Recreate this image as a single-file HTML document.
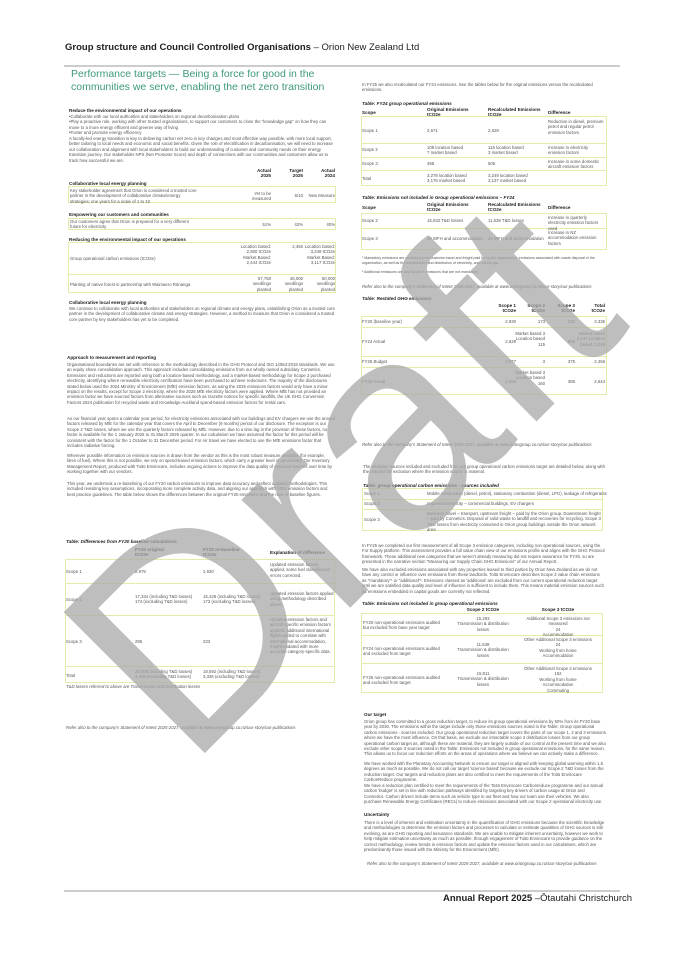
<!DOCTYPE html>
<html><head><meta charset="utf-8"><style>
*{margin:0;padding:0;box-sizing:border-box}
body{width:675px;height:955px;background:#fff;position:relative;overflow:hidden;font-family:"Liberation Sans",sans-serif;color:#444}
.a{position:absolute}
.t{font-size:4.3px;line-height:5.4px;color:#555}
.h{font-size:4.6px;font-weight:bold;color:#222}
.i{font-style:italic}
.bx{position:absolute;border:1px solid #e3ecaa}
.ln{position:absolute;height:1px;background:#e3ecaa}
.r{text-align:right}.c{text-align:center}
</style></head><body>

<div class="a" style="left:65px;top:42px;font-size:9.5px;color:#222;white-space:nowrap"><b>Group structure and Council Controlled Organisations</b> – Orion New Zealand Ltd</div>
<div class="a" style="left:64px;top:65px;width:556px;height:2px;background:#ccc"></div>

<div class="a" style="left:71px;top:68px;font-size:10.5px;line-height:12.5px;color:#3d9a78;width:260px">Performance targets — Being a force for good in the communities we serve, enabling the net zero transition</div>

<!-- LEFT COLUMN -->
<div class="a h" style="left:69px;top:108px">Reduce the environmental impact of our operations</div>
<div class="a t" style="left:69px;top:114px;width:266px">•Collaborate with our local authorities and stakeholders on regional decarbonisation plans<br>•Play a proactive role, working with other trusted organisations, to support our customers to close the "knowledge gap" on how they can move to a more energy efficient and greener way of living<br>•Foster and promote energy efficiency</div>
<div class="a t" style="left:69px;top:136px;width:266px">A locally-led energy transition is key to delivering carbon net zero in key changes and most effective way possible, with more local support, better tailoring to local needs and economic and social benefits. Given the role of electrification in decarbonisation, we will need to increase our collaboration and alignment with local stakeholders to build our understanding of customer and community needs on their energy transition journey. Our stakeholder NPS (Net Promoter Score) and depth of connections with our communities and customers allow us to track how successful we are.</div>
<div class="a h r" style="left:245px;top:168px;width:26px">Actual<br>2025</div>
<div class="a h r" style="left:277px;top:168px;width:26px">Target<br>2025</div>
<div class="a h r" style="left:309px;top:168px;width:26px">Actual<br>2024</div>
<div class="a h" style="left:69px;top:181px">Collaborative local energy planning</div>
<div class="bx" style="left:68px;top:186px;width:268px;height:17px"></div>
<div class="a t" style="left:70px;top:188px;width:130px">Key stakeholder agreement that Orion is considered a trusted core partner in the development of collaborative climate/energy strategies; one years for a scale of 1 to 10</div>
<div class="a t r" style="left:245px;top:191px;width:26px">Yet to be measured</div>
<div class="a t r" style="left:277px;top:193px;width:26px">6/10</div>
<div class="a t r" style="left:305px;top:193px;width:30px">New Measure</div>
<div class="a h" style="left:69px;top:212px">Empowering our customers and communities</div>
<div class="bx" style="left:68px;top:218px;width:268px;height:12px"></div>
<div class="a t" style="left:70px;top:219px;width:130px">Our customers agree that Orion is prepared for a very different future for electricity</div>
<div class="a t r" style="left:245px;top:222px;width:26px">51%</div>
<div class="a t r" style="left:277px;top:222px;width:26px">42%</div>
<div class="a t r" style="left:309px;top:222px;width:26px">40%</div>
<div class="a h" style="left:69px;top:237px">Reducing the environmental impact of our operations</div>
<div class="bx" style="left:68px;top:242px;width:268px;height:51px"></div>
<div class="ln" style="left:68px;top:274px;width:268px"></div>
<div class="a t" style="left:70px;top:256px">Group operational carbon emissions (tCO2e)</div>
<div class="a t r" style="left:240px;top:244px;width:31px">Location based: 2,800 tCO2e Market Based: 2,444 tCO2e</div>
<div class="a t r" style="left:277px;top:244px;width:26px">2,456</div>
<div class="a t r" style="left:304px;top:244px;width:31px">Location based: 3,249 tCO2e Market Based: 3,117 tCO2e</div>
<div class="a t" style="left:70px;top:282px">Planting of native forest in partnership with Waimaero Rūnanga</div>
<div class="a t r" style="left:245px;top:276px;width:26px">57,750 seedlings planted</div>
<div class="a t r" style="left:277px;top:276px;width:26px">45,000 seedlings planted</div>
<div class="a t r" style="left:309px;top:276px;width:26px">50,000 seedlings planted</div>
<div class="a h" style="left:69px;top:300px">Collaborative local energy planning</div>
<div class="a t" style="left:69px;top:306px;width:266px">We continue to collaborate with local authorities and stakeholders on regional climate and energy plans, establishing Orion as a trusted core partner in the development of collaborative climate and energy strategies. However, a method to measure that Orion is considered a trusted core partner by key stakeholders has yet to be completed.</div>

<div class="a h" style="left:67px;top:355px">Approach to measurement and reporting</div>
<div class="a t" style="left:67px;top:362px;width:268px">Organisational boundaries are set with reference to the methodology described in the GHG Protocol and ISO 14064:2018 standards. We use an equity share consolidation approach. This approach includes consolidating emissions from our wholly owned subsidiary Connetics. Emissions and reductions are reported using both a location-based methodology, and a market-based methodology for Scope 2 purchased electricity, identifying where renewable electricity certification have been purchased to achieve reductions. The majority of the disclosures stated below used the 2024 Ministry of Environment (MfE) emission factors, as using the 2025 emissions factors would only have a minor impact on the results, except for Scope 2 electricity, where the 2025 MfE electricity factors were applied. Where MfE has not provided an emission factor we have sourced factors from alternative sources such as Gazette notices for specific landfills, the UK GHG Conversion Factors 2024 publication for recycled waste and Knowledge Auckland spend-based emission factors for rental cars.</div>
<div class="a t" style="left:67px;top:416px;width:268px">As our financial year spans a calendar year period, for electricity emissions associated with our buildings and EV chargers we use the annual factors released by MfE for the calendar year that covers the April to December (9 months) period of our disclosure. The exception is our Scope 2 T&amp;D losses, where we use the quarterly factors released by MfE. However, due to a time lag in the provision of these factors, no factor is available for the 1 January 2025 to 31 March 2025 quarter. In our calculation we have assumed the factor for this period will be consistent with the factor for the 1 October to 31 December period. For Air travel we have elected to use the MfE emissions factor that includes radiative forcing.</div>
<div class="a t" style="left:67px;top:453px;width:268px">Wherever possible information on emission sources is drawn from the vendor as this is the most robust measure available (for example, litres of fuel). Where this is not possible, we rely on spend-based emission factors, which carry a greater level of uncertainty. Our Inventory Management Report, produced with Toitū Envirocare, includes ongoing actions to improve the data quality of emission sources over time by working together with our vendors.</div>
<div class="a t" style="left:67px;top:481px;width:268px">This year, we undertook a re-baselining of our FY20 carbon emissions to improve data accuracy and reflect updated methodologies. This included revisiting key assumptions, incorporating more complete activity data, and aligning our approach with 2024 emission factors and best practice guidelines. The table below shows the differences between the original FY20 emissions and the new re-baseline figures.</div>

<div class="a h i" style="left:66px;top:539px">Table: Differences from FY20 baseline calculations</div>
<div class="a h" style="left:135px;top:547px">FY20 original<br>tCO2e</div>
<div class="a h" style="left:203px;top:547px">FY20 re-baseline<br>tCO2e</div>
<div class="a h" style="left:270px;top:550px">Explanation of difference</div>
<div class="bx" style="left:65px;top:559px;width:270px;height:124px"></div>
<div class="ln" style="left:65px;top:583px;width:270px"></div>
<div class="ln" style="left:65px;top:615px;width:270px"></div>
<div class="ln" style="left:65px;top:666px;width:270px"></div>
<div class="a t" style="left:66px;top:569px">Scope 1</div><div class="a t" style="left:135px;top:569px">2,979</div><div class="a t" style="left:203px;top:569px">2,930</div>
<div class="a t" style="left:270px;top:562px;width:64px">Updated emission factors applied, some fuel classification errors corrected.</div>
<div class="a t" style="left:66px;top:597px">Scope 2</div><div class="a t" style="left:135px;top:594px">17,334 (including T&amp;D losses)<br>174 (excluding T&amp;D losses)</div><div class="a t" style="left:203px;top:594px">15,428 (including T&amp;D losses)<br>173 (excluding T&amp;D losses)</div>
<div class="a t" style="left:270px;top:591px;width:64px">Updated emission factors applied using methodology described above.</div>
<div class="a t" style="left:66px;top:639px">Scope 3</div><div class="a t" style="left:135px;top:639px">295</div><div class="a t" style="left:203px;top:639px">233</div>
<div class="a t" style="left:270px;top:617px;width:64px">Updated emission factors and aircraft specific emission factors applied, additional international flights added to correlate with international accommodation, freight updated with more accurate category-specific data.</div>
<div class="a t" style="left:66px;top:673px">Total</div>
<div class="a t" style="left:135px;top:669px">20,608 (including T&amp;D losses)<br>3,448 (excluding T&amp;D losses)</div>
<div class="a t" style="left:203px;top:669px">18,592 (including T&amp;D losses)<br>3,336 (excluding T&amp;D losses)</div>
<div class="a t i" style="left:66px;top:684px">T&amp;D losses referred to above are Transmission and Distribution losses</div>
<div class="a t i" style="left:66px;top:725px">Refer also to the company's Statement of Intent 2025-2027, available at www.oriongroup.co.nz/our-story/our-publications</div>

<!-- RIGHT COLUMN -->
<div class="a t" style="left:362px;top:82px;width:245px">In FY25 we also recalculated our FY24 emissions. See the tables below for the original emissions versus the recalculated emissions.</div>
<div class="a h i" style="left:362px;top:101px">Table: FY24 group operational emissions</div>
<div class="a h" style="left:362px;top:110px">Scope</div>
<div class="a h" style="left:427px;top:107px">Original Emissions<br>tCO2e</div>
<div class="a h" style="left:488px;top:107px">Recalculated Emissions<br>tCO2e</div>
<div class="a h" style="left:548px;top:110px">Difference</div>
<div class="bx" style="left:361px;top:116px;width:246px;height:70px"></div>
<div class="ln" style="left:361px;top:143px;width:246px"></div>
<div class="ln" style="left:361px;top:157px;width:246px"></div>
<div class="ln" style="left:361px;top:170px;width:246px"></div>
<div class="a t" style="left:362px;top:128px">Scope 1</div><div class="a t" style="left:427px;top:128px">2,671</div><div class="a t" style="left:488px;top:128px">2,628</div>
<div class="a t" style="left:548px;top:119px;width:58px">Reduction in diesel, premium petrol and regular petrol emission factors</div>
<div class="a t" style="left:362px;top:147px">Scope 2</div><div class="a t" style="left:427px;top:145px">109 location based<br>7 market based</div><div class="a t" style="left:488px;top:145px">115 location based<br>3 market based</div>
<div class="a t" style="left:548px;top:145px;width:58px">Increase in electricity emission factors</div>
<div class="a t" style="left:362px;top:161px">Scope 3</div><div class="a t" style="left:427px;top:161px">498</div><div class="a t" style="left:488px;top:161px">506</div>
<div class="a t" style="left:548px;top:159px;width:58px">Increase in some domestic aircraft emission factors</div>
<div class="a t" style="left:362px;top:176px">Total</div><div class="a t" style="left:427px;top:173px">3,278 location based<br>3,176 market based</div><div class="a t" style="left:488px;top:173px">3,249 location based<br>3,137 market based</div>

<div class="a h i" style="left:362px;top:195px">Table: Emissions not included in Group operational emissions – FY24</div>
<div class="a h" style="left:362px;top:205px">Scope</div>
<div class="a h" style="left:427px;top:202px">Original Emissions<br>tCO2e</div>
<div class="a h" style="left:488px;top:202px">Recalculated Emissions<br>tCO2e</div>
<div class="a h" style="left:548px;top:205px">Difference</div>
<div class="bx" style="left:361px;top:213px;width:246px;height:37px"></div>
<div class="ln" style="left:361px;top:228px;width:246px"></div>
<div class="a t" style="left:362px;top:218px">Scope 2</div><div class="a t" style="left:427px;top:218px">15,932 T&amp;D losses</div><div class="a t" style="left:488px;top:218px">11,638 T&amp;D losses</div>
<div class="a t" style="left:548px;top:215px;width:58px">Increase in quarterly electricity emission factors used</div>
<div class="a t" style="left:362px;top:236px">Scope 3</div><div class="a t" style="left:427px;top:236px">18 WFH and accommodation</div><div class="a t" style="left:488px;top:236px">24 WFH and accommodation</div>
<div class="a t" style="left:548px;top:230px;width:58px">Increase in NZ accommodation emission factors</div>
<div class="a t" style="left:362px;top:256px;width:245px;font-size:3.6px;line-height:4.6px">¹ Mandatory emissions are emissions from business travel and freight paid for by the organisation, emissions associated with waste disposal of the organisation, as well as the transmission and distribution of electricity, and natural gas<br><br>² Additional emissions are any Scope 3 emissions that are not mandatory</div>
<div class="a t i" style="left:362px;top:284px">Refer also to the company's Statement of Intent 2025-2027, available at www.oriongroup.co.nz/our-story/our-publications</div>

<div class="a h i" style="left:362px;top:296px">Table: Restated GHG emissions</div>
<div class="a h r" style="left:490px;top:303px;width:26px">Scope 1<br>tCO2e</div>
<div class="a h r" style="left:519px;top:303px;width:26px">Scope 2<br>tCO2e</div>
<div class="a h r" style="left:549px;top:303px;width:26px">Scope 3<br>tCO2e</div>
<div class="a h r" style="left:579px;top:303px;width:26px">Total<br>tCO2e</div>
<div class="bx" style="left:361px;top:316px;width:246px;height:79px"></div>
<div class="ln" style="left:361px;top:327px;width:246px"></div>
<div class="ln" style="left:361px;top:356px;width:246px"></div>
<div class="ln" style="left:361px;top:367px;width:246px"></div>
<div class="a t" style="left:362px;top:319px">FY20 (baseline year)</div><div class="a t r" style="left:490px;top:319px;width:26px">2,930</div><div class="a t r" style="left:519px;top:319px;width:26px">173</div><div class="a t r" style="left:549px;top:319px;width:26px">233</div><div class="a t r" style="left:579px;top:319px;width:26px">3,336</div>
<div class="a t" style="left:362px;top:339px">FY24 Actual</div><div class="a t r" style="left:490px;top:339px;width:26px">2,628</div><div class="a t r" style="left:515px;top:331px;width:30px">Market based 3<br>Location based 115</div><div class="a t r" style="left:549px;top:339px;width:26px">506</div><div class="a t r" style="left:575px;top:331px;width:30px">Market based 3,137 Location based: 3,249</div>
<div class="a t" style="left:362px;top:359px">FY25 Budget</div><div class="a t r" style="left:490px;top:359px;width:26px">2,077</div><div class="a t r" style="left:519px;top:359px;width:26px">3</div><div class="a t r" style="left:549px;top:359px;width:26px">375</div><div class="a t r" style="left:579px;top:359px;width:26px">2,456</div>
<div class="a t" style="left:362px;top:379px">FY25 Actual</div><div class="a t r" style="left:490px;top:379px;width:26px">2,255</div><div class="a t r" style="left:515px;top:370px;width:30px">Market based 3<br>Location based 160</div><div class="a t r" style="left:549px;top:379px;width:26px">385</div><div class="a t r" style="left:579px;top:379px;width:26px">2,644</div>

<div class="a t i" style="left:362px;top:442px">Refer also to the company's Statement of Intent 2025-2027, available at www.oriongroup.co.nz/our-story/our-publications</div>
<div class="a t" style="left:363px;top:464px;width:242px">The emission sources included and excluded from our group operational carbon emissions target are detailed below, along with the reasons for exclusion where the emission source is material.</div>
<div class="a h i" style="left:363px;top:483px">Table: group operational carbon emissions - sources included</div>
<div class="bx" style="left:362px;top:488px;width:241px;height:43px"></div>
<div class="ln" style="left:362px;top:499px;width:241px"></div>
<div class="ln" style="left:362px;top:509px;width:241px"></div>
<div class="a t" style="left:364px;top:491px">Scope 1</div><div class="a t" style="left:427px;top:491px">Mobile combustion (diesel, petrol), stationary combustion (diesel, LPG), leakage of refrigerants</div>
<div class="a t" style="left:364px;top:501px">Scope 2</div><div class="a t" style="left:427px;top:501px">Imported electricity – commercial buildings, EV chargers</div>
<div class="a t" style="left:364px;top:517px">Scope 3</div><div class="a t" style="left:427px;top:511px;width:175px">Business travel – transport, upstream freight – paid by the Orion group. Downstream freight – paid by Connetics. Disposal of solid waste to landfill and recoveries for recycling. Scope 3 T&amp;D losses from electricity consumed in Orion group buildings outside the Orion network area</div>
<div class="a t" style="left:362px;top:543px;width:243px">In FY25 we completed our first measurement of all Scope 3 emission categories, including non operational sources, using the For Supply platform. This assessment provides a full value chain view of our emissions profile and aligns with the GHG Protocol framework. These additional new categories that we weren't already measuring did not require assurance for FY25, so are presented in the narrative section "Measuring our Supply Chain GHG Emissions" of our Annual Report.</div>
<div class="a t" style="left:362px;top:567px;width:243px">We have also excluded emissions associated with any properties leased to third parties by Orion New Zealand as we do not have any control or influence over emissions from these landlords. Toitū Envirocare describes Scope 3 value chain emissions as "mandatory"¹ or "additional"². Emissions classed as 'additional' are excluded from our current operational reduction target until we are satisfied data quality and level of influence is sufficient to include them. This means material emission sources such as emissions embedded in capital goods are currently not reflected.</div>
<div class="a h i" style="left:362px;top:601px">Table: Emissions not included in group operational emissions</div>
<div class="a h c" style="left:453px;top:607px;width:60px">Scope 2 tCO2e</div>
<div class="a h c" style="left:523px;top:607px;width:70px">Scope 3 tCO2e</div>
<div class="bx" style="left:361px;top:613px;width:242px;height:80px"></div>
<div class="ln" style="left:361px;top:635px;width:242px"></div>
<div class="ln" style="left:361px;top:663px;width:242px"></div>
<div class="a t" style="left:363px;top:620px;width:80px">FY20 non-operational emissions audited but excluded from base year target</div>
<div class="a t c" style="left:453px;top:616px;width:60px">15,293<br>Transmission &amp; distribution losses</div>
<div class="a t c" style="left:518px;top:616px;width:80px">Additional Scope 3 emissions not measured<br>24<br>Accommodation</div>
<div class="a t" style="left:363px;top:646px;width:80px">FY24 non-operational emissions audited and excluded from target</div>
<div class="a t c" style="left:453px;top:642px;width:60px">11,638<br>Transmission &amp; distribution losses</div>
<div class="a t c" style="left:518px;top:637px;width:80px">Other Additional Scope 3 emissions<br>24<br>Working from home<br>Accommodation</div>
<div class="a t" style="left:363px;top:675px;width:80px">FY25 non-operational emissions audited and excluded from target</div>
<div class="a t c" style="left:453px;top:671px;width:60px">15,811<br>Transmission &amp; distribution losses</div>
<div class="a t c" style="left:518px;top:666px;width:80px">Other Additional Scope 3 emissions<br>162<br>Working from home<br>Accommodation<br>Commuting</div>

<div class="a h" style="left:364px;top:712px">Our target</div>
<div class="a t" style="left:364px;top:719px;width:242px">Orion group has committed to a gross reduction target, to reduce its group operational emissions by 50% from its FY20 base year by 2030. The emissions within the target include only those emissions sources noted in the Table: Group operational carbon emissions - sources included. Our group operational reduction target covers the parts of our scope 1, 2 and 3 emissions where we have the most influence. On that basis, we exclude our intractable scope 2 distribution losses from our group operational carbon target as, although these are material, they are largely outside of our control at the present time and we also exclude other scope 3 sources noted in the Table: Emissions not included in group operational emissions, for the same reason. This allows us to focus our reduction efforts on the areas of operations where we believe we can actively make a difference.</div>
<div class="a t" style="left:364px;top:761px;width:242px">We have worked with the Planetary Accounting Network to ensure our target is aligned with keeping global warming within 1.5 degrees as much as possible. We do not call our target 'science based' because we exclude our Scope 2 T&amp;D losses from the reduction target. Our targets and reduction plans are also certified to meet the requirements of the Toitū Envirocare CarbonReduce programme.</div>
<div class="a t" style="left:364px;top:783px;width:242px">We have a reduction plan certified to meet the requirements of the Toitū Envirocare Carbonreduce programme and our annual carbon 'budget' is set in line with reduction pathways identified by targeting key drivers of carbon usage at Orion and Connetics. Carbon drivers include items such as vehicle type in our fleet and how our team use their vehicles. We also purchase Renewable Energy Certificates (RECs) to reduce emissions associated with our Scope 2 operational electricity use.</div>
<div class="a h" style="left:364px;top:812px">Uncertainty</div>
<div class="a t" style="left:364px;top:820px;width:242px">There is a level of inherent and estimation uncertainty in the quantification of GHG emissions because the scientific knowledge and methodologies to determine the emission factors and processes to calculate or estimate quantities of GHG sources is still evolving, as are GHG reporting and assurance standards. We are unable to mitigate inherent uncertainty, however we work to help mitigate estimation uncertainty as much as possible, through engagement of Toitū Envirocare to provide guidance on the correct methodology, review trends in emission factors and update the emission factors used in our calculations, which are predominantly those issued with the Ministry for the Environment (MfE).</div>
<div class="a t i" style="left:367px;top:861px">Refer also to the company's Statement of Intent 2025-2027, available at www.oriongroup.co.nz/our-story/our-publications</div>

<div class="a" style="left:64px;top:890px;width:556px;height:2px;background:#ccc"></div>
<div class="a" style="left:443px;top:893px;font-size:9.5px;color:#222;white-space:nowrap"><b>Annual Report 2025</b> –Ōtautahi Christchurch</div>

<svg class="a" style="left:0;top:0" width="675" height="955">
<text transform="translate(188,770) rotate(-45)" font-family="Liberation Sans, sans-serif" font-size="290" fill="#a8a8a8" fill-opacity="0.75">Draft</text>
</svg>
</body></html>
